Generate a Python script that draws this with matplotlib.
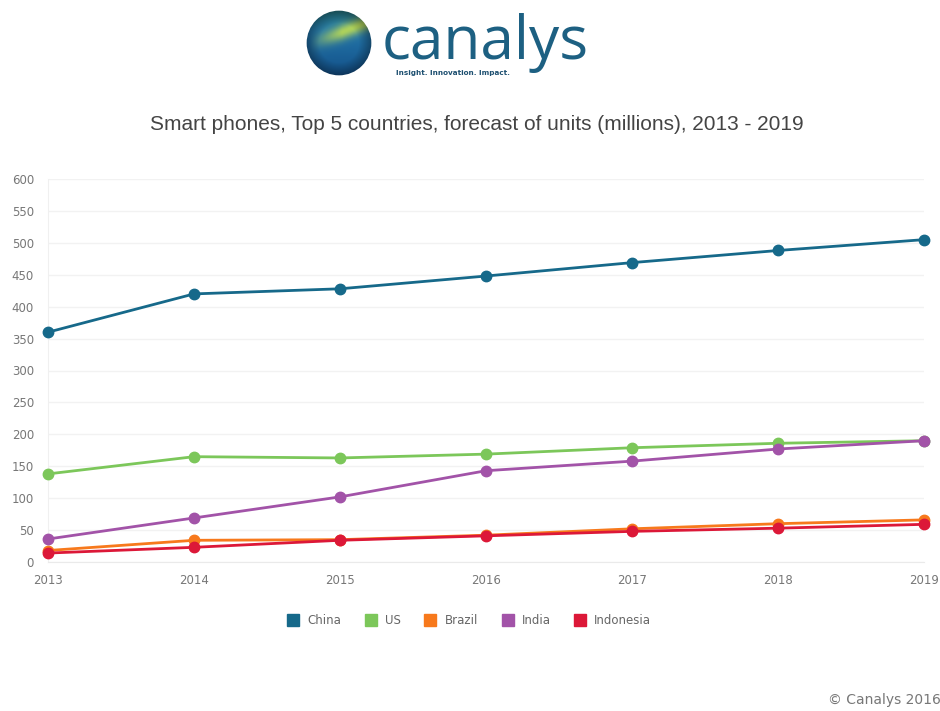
import numpy as np
import matplotlib.pyplot as plt
from matplotlib.patches import Circle
from matplotlib.lines import Line2D

# Data (millions of units)
years = [2013, 2014, 2015, 2016, 2017, 2018, 2019]
china = [360, 420, 428, 448, 469, 488, 505]
us = [138, 165, 163, 169, 179, 186, 190]
brazil = [18, 34, 35, 42, 52, 60, 66]
india = [36, 69, 102, 143, 158, 177, 190]
indonesia = [14, 23, 34, 41, 48, 53, 59]

names = ["China", "US", "Brazil", "India", "Indonesia"]
series = [china, us, brazil, india, indonesia]
colors = ["#16698a", "#7cc75a", "#f7791c", "#a253a8", "#dc1838"]

plt.rcParams['font.family'] = ['DejaVu Sans']

fig = plt.figure(figsize=(9.4, 7.11), dpi=100)
fig.patch.set_facecolor("white")

# ---- logo: globe ----
lax = fig.add_axes([306 / 940, 1 - 76 / 711, 66 / 940, 66 / 711])
lax.set_xlim(-1, 1)
lax.set_ylim(-1, 1)
lax.set_aspect("equal")
lax.axis("off")
gx, gy = np.meshgrid(np.linspace(-1, 1, 200), np.linspace(-1, 1, 200))
r = np.sqrt(gx ** 2 + gy ** 2)
navy = np.array([0.07, 0.30, 0.52])
blue = np.array([0.16, 0.52, 0.72])
teal = np.array([0.14, 0.45, 0.50])
green = np.array([0.68, 0.82, 0.36])
t = np.clip(0.55 + 0.5 * gy, 0, 1)[..., None]
rgb = navy * (1 - t) + blue * t
top = np.clip((gy - 0.35) * 1.6, 0, 1)[..., None]
rgb = rgb * (1 - top) + teal * top
curve = 0.0 + 0.3 * (gx + 1) ** 1.2
band = np.exp(-((gy - curve) / 0.24) ** 2) * np.clip(gx + 0.9, 0, 1)
rgb = rgb * (1 - band[..., None]) + green * band[..., None]
shade = np.clip(1 - 0.35 * np.clip(r - 0.6, 0, 1) / 0.4, 0, 1)[..., None]
rgb = rgb * shade
im = lax.imshow(np.clip(rgb, 0, 1), extent=(-1, 1, -1, 1), origin="lower")
im.set_clip_path(Circle((0, 0), 0.98, transform=lax.transData))

fig.text(382 / 940, 1 - 43 / 711, "canalys", fontsize=43.5, color="#1d6082",
         family=["Open Sans", "DejaVu Sans"], va="center", ha="left")
fig.text(396 / 940, 1 - 73 / 711, "Insight. Innovation. Impact.", fontsize=5.2,
         color="#1d4f70", fontweight="bold", va="center", ha="left")

# ---- title ----
fig.text(477 / 940, 1 - 125 / 711,
         "Smart phones, Top 5 countries, forecast of units (millions), 2013 - 2019",
         fontsize=15, color="#444444", ha="center", va="center",
         family=["Liberation Sans", "DejaVu Sans"])

# ---- chart ----
ax = fig.add_axes([48 / 940, 1 - 562 / 711, (924 - 48) / 940, (562 - 179) / 711])
for name, vals, col in zip(names, series, colors):
    ax.plot(years, vals, color=col, lw=2, marker="o", markersize=7.5,
            clip_on=False, zorder=3, label=name)

ax.set_xlim(2013, 2019)
ax.set_ylim(0, 600)
ax.set_yticks(np.arange(0, 601, 50))
ax.set_xticks(years)
ax.grid(axis="y", color="#f2f2f2", lw=1)
ax.grid(axis="x", visible=False)
for s in ["top", "right"]:
    ax.spines[s].set_visible(False)
ax.spines["left"].set_color("#f0f0f0")
ax.spines["bottom"].set_color("#eaeaea")
ax.tick_params(axis="y", length=0, pad=10, labelsize=8.5, labelcolor="#777777")
ax.tick_params(axis="x", length=0, pad=9, labelsize=8.5, labelcolor="#777777")
ax.set_axisbelow(True)

handles = [Line2D([], [], marker="s", ls="", color=c, markersize=8.5) for c in colors]
fig.legend(handles, names, loc="center", bbox_to_anchor=(470 / 940, 1 - 621 / 711),
           ncol=5, frameon=False, fontsize=8.5, labelcolor="#666666",
           handletextpad=0.8, columnspacing=2.1, handlelength=0.8)

fig.text(828 / 940, 1 - 700 / 711, "© Canalys 2016", fontsize=10, color="#777777",
         ha="left", va="center")

fig.savefig("out.png", dpi=100, facecolor="white")
